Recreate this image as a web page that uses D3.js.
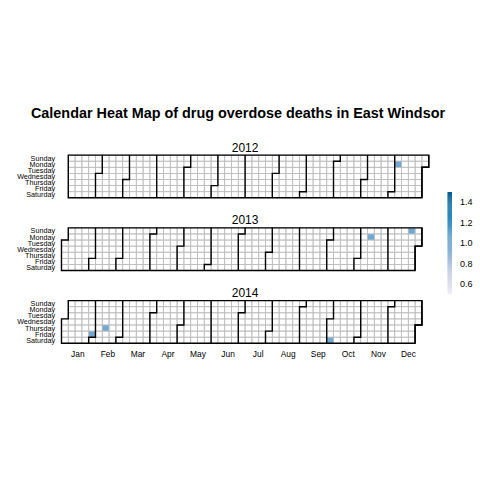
<!DOCTYPE html>
<html><head><meta charset="utf-8">
<script src="https://cdn.jsdelivr.net/npm/d3@7"></script>
<style>body{margin:0;background:#fff}</style>
</head><body>
<svg id="chart" width="480" height="480"></svg>
<script>
// ---- data ----
const years = [2012, 2013, 2014];
const eventDates = ["2012-12-03", "2013-11-11", "2013-12-22", "2014-01-31", "2014-02-13", "2014-10-04"];
const eventValues = [1, 1, 1, 1, 1, 1];
const dayLabels = ["Sunday", "Monday", "Tuesday", "Wednesday", "Thursday", "Friday", "Saturday"];
const monthLabels = ["Jan", "Feb", "Mar", "Apr", "May", "Jun", "Jul", "Aug", "Sep", "Oct", "Nov", "Dec"];
const monthTickAt = [2.9, 7.32, 11.74, 16.16, 20.58, 25, 29.42, 33.84, 38.26, 42.68, 47.1, 51.52];
const legendTicks = [0.6, 0.8, 1.0, 1.2, 1.4];
const paletteStops = ["#F1EEF6", "#BDC9E1", "#74A9CF", "#2B8CBE", "#045A8D"];
const titleText = "Calendar Heat Map of drug overdose deaths in East Windsor";

// ---- setup ----
const svg = d3.select("#chart");
const font = "'Liberation Sans', Arial, Helvetica, sans-serif";
const x = d3.scaleLinear().domain([0.4, 54.6]).range([60.8, 429.4]);
const panelTop = [155.1, 227.85, 300.6];
const rowH = 6.1;
const yFor = i => d3.scaleLinear().domain([-0.5, 6.5]).range([panelTop[i], panelTop[i] + 7 * rowH]);
const woty = d => +d3.timeFormat("%U")(d) + 1;
const dotw = d => d.getDay();
const key = d3.timeFormat("%Y-%m-%d");

const valueByDate = new Map(eventDates.map((d, i) => [d, eventValues[i]]));
let ext = d3.extent(eventValues);
if (ext[0] === ext[1]) ext = [ext[0] - 0.5, ext[1] + 0.5];
const pal = d3.quantize(d3.piecewise(d3.interpolateLab, paletteStops), 99);
const color = d3.scaleQuantize().domain(ext).range(pal);

// title
svg.append("text").attr("x", 238).attr("y", 117.5).attr("text-anchor", "middle")
  .attr("font-family", font).attr("font-weight", "bold").attr("font-size", 14.4)
  .text(titleText);

years.forEach((yr, i) => {
  const y = yFor(i);
  const g = svg.append("g");
  const days = d3.timeDay.range(new Date(yr, 0, 1), new Date(yr + 1, 0, 1));
  const cw = x(1) - x(0);
  // grey grid
  g.selectAll("rect.grid").data(days).join("rect")
    .attr("x", d => x(woty(d) - 0.5)).attr("y", d => y(dotw(d) - 0.5))
    .attr("width", cw).attr("height", rowH)
    .attr("fill", "none").attr("stroke", "#bebebe").attr("stroke-width", 0.8);
  // colored cells
  g.selectAll("rect.val").data(days.filter(d => valueByDate.has(key(d)))).join("rect")
    .attr("x", d => x(woty(d) - 0.5) + 0.3).attr("y", d => y(dotw(d) - 0.5) + 0.3)
    .attr("width", cw - 0.6).attr("height", rowH - 0.6)
    .attr("fill", d => color(valueByDate.get(key(d))));
  // outline
  const first = days[0], last = days[days.length - 1];
  const w0 = woty(first), s = dotw(first), w1 = woty(last), e = dotw(last);
  const pts = [];
  if (s === 0) { pts.push([w0 - 0.5, -0.5]); }
  else { pts.push([w0 - 0.5, 6.5], [w0 - 0.5, s - 0.5], [w0 + 0.5, s - 0.5], [w0 + 0.5, -0.5]); }
  pts.push([w1 + 0.5, -0.5], [w1 + 0.5, e + 0.5]);
  if (e < 6) pts.push([w1 - 0.5, e + 0.5], [w1 - 0.5, 6.5]);
  pts.push([w0 - 0.5, 6.5]);
  const line = d3.line().x(p => x(p[0])).y(p => y(p[1]));
  g.append("path").attr("d", line(pts) + "Z").attr("fill", "none")
    .attr("stroke", "#000").attr("stroke-width", 1.4);
  // month boundaries
  for (let m = 0; m < 12; m++) {
    const L = new Date(yr, m + 1, 0);
    const xl = woty(L) + 0.5, yl = dotw(L) + 0.5;
    const mp = yl < 6 ? [[xl, -0.5], [xl, yl], [xl - 1, yl], [xl - 1, 6.5]] : [[xl, -0.5], [xl, 6.5]];
    g.append("path").attr("d", line(mp)).attr("fill", "none")
      .attr("stroke", "#000").attr("stroke-width", 1.4);
  }
  // strip label
  svg.append("text").attr("x", (x(0.4) + x(54.6)) / 2).attr("y", panelTop[i] - 3.5)
    .attr("text-anchor", "middle").attr("font-family", font).attr("font-size", 12).text(String(yr));
  // day labels
  svg.append("g").selectAll("text").data(dayLabels).join("text")
    .attr("x", 55).attr("y", (d, k) => y(k)).attr("dy", "0.35em")
    .attr("text-anchor", "end").attr("font-family", font).attr("font-size", 7.2).text(d => d);
});

// month labels (bottom panel)
const yBottom = yFor(years.length - 1)(6.5);
svg.append("g").selectAll("text").data(monthLabels).join("text")
  .attr("x", (d, k) => x(monthTickAt[k])).attr("y", yBottom + 13.5)
  .attr("text-anchor", "middle").attr("font-family", font).attr("font-size", 8.4).text(d => d);

// color key
const ky = d3.scaleLinear().domain(ext).range([294, 192]);
const step = (ext[1] - ext[0]) / pal.length;
svg.append("g").selectAll("rect").data(pal).join("rect")
  .attr("x", 447.5).attr("width", 4.5)
  .attr("y", (c, k) => ky(ext[0] + (k + 1) * step)).attr("height", (c, k) => ky(ext[0] + k * step) - ky(ext[0] + (k + 1) * step) + 0.3)
  .attr("fill", c => c);
svg.append("g").selectAll("text").data(legendTicks).join("text")
  .attr("x", 460).attr("y", d => ky(d)).attr("dy", "0.35em")
  .attr("font-family", font).attr("font-size", 9).text(d => d.toFixed(1));
</script>
</body></html>
